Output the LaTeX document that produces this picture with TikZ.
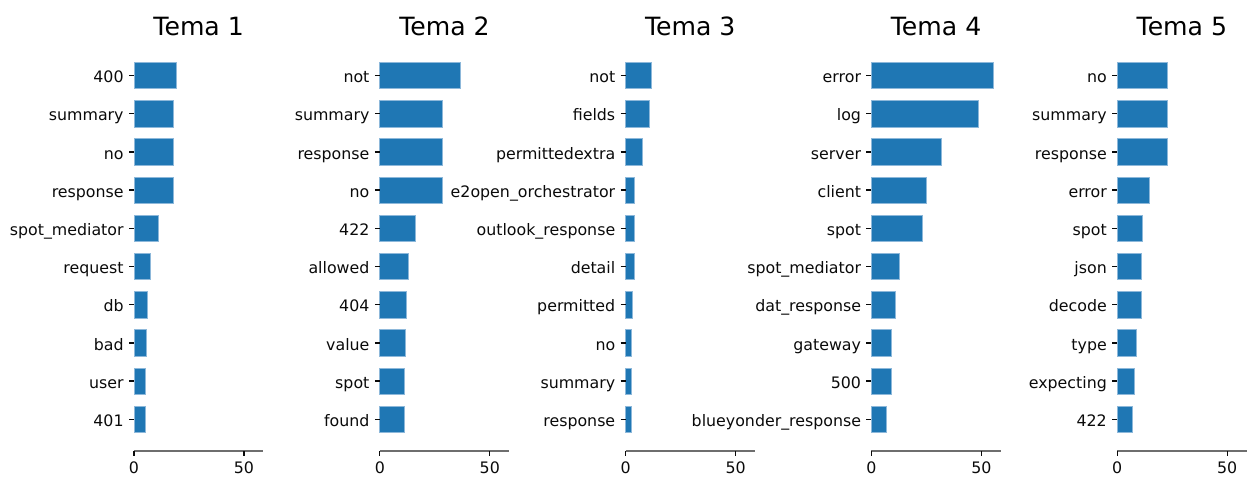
\documentclass[tikz,border=0pt]{standalone}
\usepackage{fontspec}
\setmainfont{DejaVu Sans}
\usetikzlibrary{positioning}
\definecolor{cbar}{HTML}{1F77B4}
\definecolor{cedge}{HTML}{8DB8DA}
\definecolor{caxis}{HTML}{6E6E6E}
\definecolor{ctext}{HTML}{0A0A0A}
\tikzset{
  every picture/.style={line width=0.8pt},
  bar/.style={fill=cbar, draw=cedge, line width=0.4pt},
  ticklab/.style={font=\fontsize{9.0}{10}\selectfont, text=ctext, inner sep=0pt},
  title/.style={font=\fontsize{14.3}{16}\selectfont, text=black, inner sep=0pt},
  spine/.style={draw=caxis, line width=1pt},
  tickmark/.style={draw=ctext, line width=0.7pt},
}

\begin{document}
\begin{tikzpicture}
  \useasboundingbox (0,0) rectangle (24.98,9.52);
  \foreach \p/\words in {
    1/{400/19.1, summary/17.9, no/17.9, response/17.9, spot\_mediator/11.2, request/7.3, db/6.1, bad/5.5, user/5.2, 401/5.2},
    2/{not/36.5, summary/28.2, response/28.2, no/28.2, 422/16.1, allowed/12.9, 404/12.1, value/11.7, spot/11.2, found/11.2},
    3/{not/11.7, fields/10.8, permittedextra/7.7, e2open\_orchestrator/3.8, outlook\_response/3.8, detail/3.8, permitted/3.0, no/2.6, summary/2.6, response/2.6},
    4/{error/55.6, log/48.6, server/31.8, client/24.8, spot/23.0, spot\_mediator/12.6, dat\_response/10.9, gateway/9.1, 500/9.1, blueyonder\_response/7.0},
    5/{no/23.0, summary/23.0, response/23.0, error/14.7, spot/11.2, json/10.8, decode/10.8, type/8.6, expecting/7.7, 422/6.8}} {
    \begin{scope}[xshift={(2.68+4.916*(\p-1))*1cm}]
      \node[title, anchor=base] (t\p) at (1.293,8.806) {Tema \p};
      \foreach \w/\v [count=\k] in \words {
        \pgfmathsetmacro{\yc}{8.01-0.764*(\k-1)}
        \draw[bar] (0,\yc-0.264) rectangle ({0.044*\v},\yc+0.264);
        \draw[tickmark] (-0.1,\yc) -- (0,\yc);
        \node[ticklab, anchor=base east] (l\p-\k) at (-0.194,\yc-0.144) {\w};
      }
      % x axis
      \draw[spine] (0,0.5) -- (2.586,0.5);
      \foreach \t/\x in {0/0, 50/2.2} {
        \draw[tickmark] (\x,0.5) -- (\x,0.4);
        \node[ticklab, anchor=base] (x\p-\t) at (\x,0.05) {\t};
      }
    \end{scope}
  }
\end{tikzpicture}
\end{document}
